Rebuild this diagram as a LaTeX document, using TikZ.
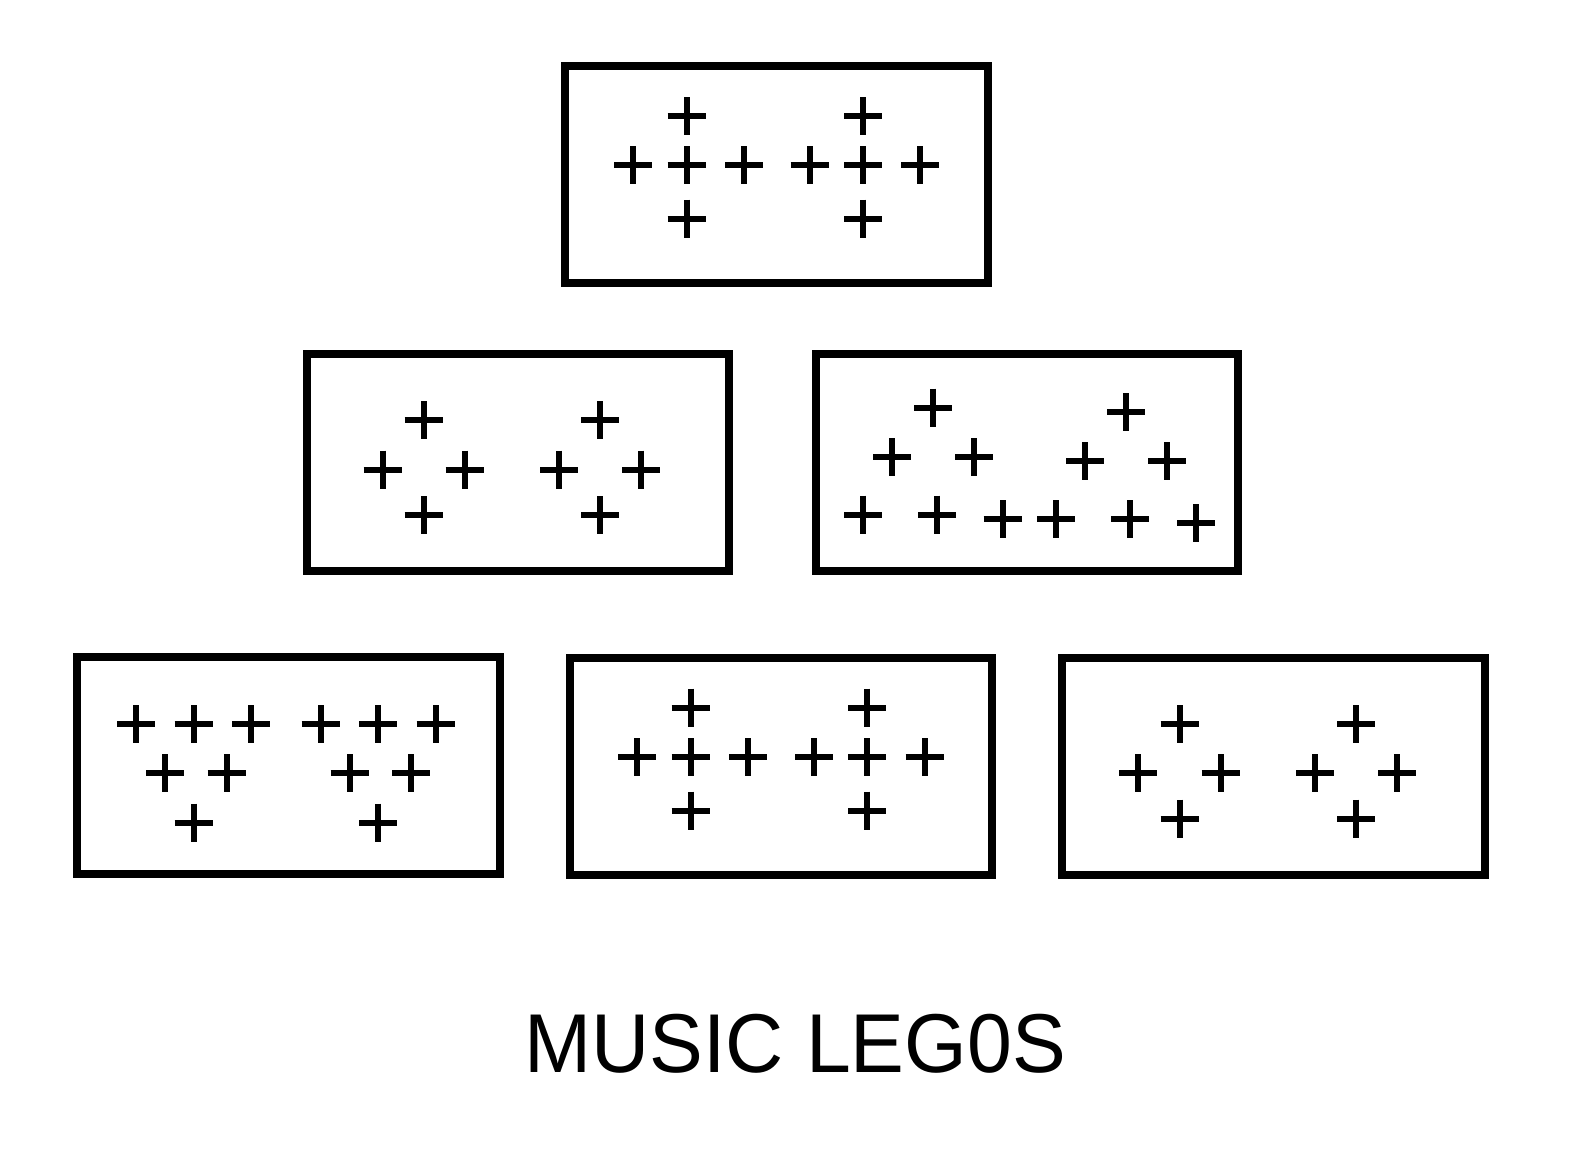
\documentclass[tikz,border=0pt]{standalone}
\usepackage{graphicx}
\usepackage{fontspec}
\setmainfont{Liberation Sans}
\begin{document}
\begin{tikzpicture}[x=1pt,y=-1pt,
  legobox/.style={draw=black,line width=8pt,rectangle,minimum width=422.5pt,minimum height=217pt,inner sep=0pt,fill=none},
  plussign/.pic={\draw[line width=6pt,line cap=butt] (-19,0) -- (19,0) (0,-19) -- (0,19);}
]
\useasboundingbox[fill=white] (0,0) rectangle (1570,1170);

% boxes
\node[legobox] (top) at (776.5,174.5) {};
\node[legobox] (midleft) at (518,462) {};
\node[legobox] (midright) at (1027,462) {};
\node[legobox] (botleft) at (288.4,765.8) {};
\node[legobox] (botmid) at (780.8,766.4) {};
\node[legobox] (botright) at (1273.5,766.4) {};

% top box crosses
\foreach \x/\y in {686.7/116, 863/116,
  633/165, 686.7/165, 744/165, 809.7/165, 863/165, 920.3/165,
  686.7/218.7, 863/218.7}
  \pic at (\x,\y) {plussign};

% middle-left box crosses
\foreach \x/\y in {423.7/420.3, 382.7/469.7, 464.7/469.7, 423.7/515,
  600.3/420.3, 559.3/469.7, 641.3/469.7, 600.3/515}
  \pic at (\x,\y) {plussign};

% middle-right box crosses
\foreach \x/\y in {933.3/407.7, 892/457.3, 974/457.3, 863.3/514.7, 937/514.7, 1002.7/519,
  1126/412, 1085/461.3, 1167/461.3, 1056.3/519, 1130.3/519, 1196/523}
  \pic at (\x,\y) {plussign};

% bottom-left box crosses
\foreach \x/\y in {136/724, 193.7/724, 251/724, 320.7/724, 378/724, 435.7/724,
  165/773.3, 226.7/773.3, 349.7/773.3, 411.3/773.3,
  193.7/822.7, 378.3/822.7}
  \pic at (\x,\y) {plussign};

% bottom-middle box crosses
\foreach \x/\y in {690.7/707.7, 867/707.7,
  637.3/757, 690.7/757, 748/757, 814/757, 867/757, 924.7/757,
  690.7/810.7, 867/810.7}
  \pic at (\x,\y) {plussign};

% bottom-right box crosses
\foreach \x/\y in {1179.7/724, 1138.3/773.3, 1220.7/773.3, 1179.7/818.7,
  1356/724, 1315/773.3, 1397/773.3, 1356/818.7}
  \pic at (\x,\y) {plussign};

% title
\node[anchor=base,inner sep=0pt] (title) at (795,1072)
  {\scalebox{0.965}[1]{\fontsize{83.5}{100}\selectfont MUSIC LEG0S}};
\end{tikzpicture}
\end{document}
